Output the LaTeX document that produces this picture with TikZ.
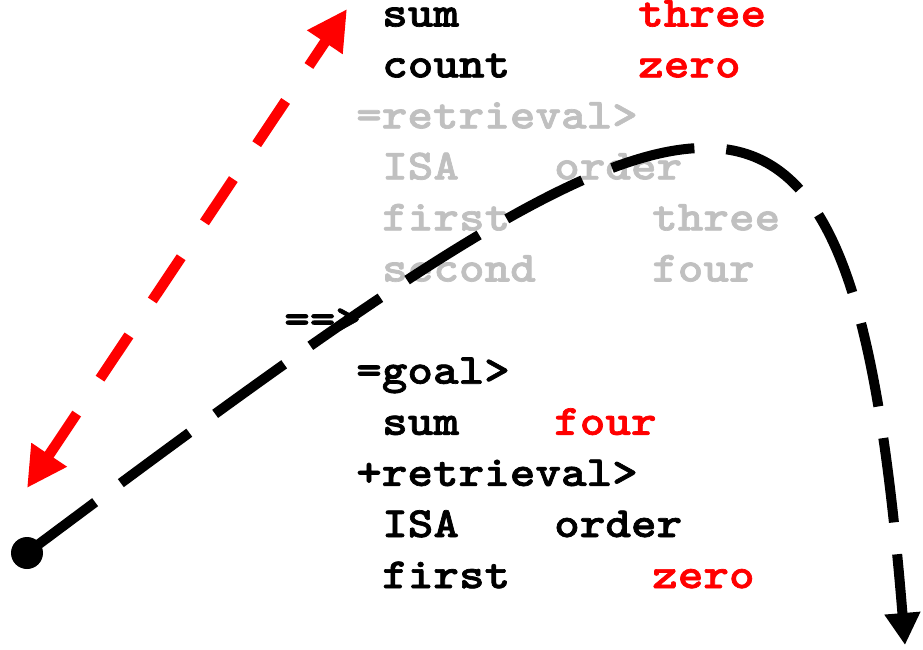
\documentclass[tikz,border=0pt]{standalone}
\usepackage{fontspec}
\newfontfamily\courfont[Extension=.otf, FakeStretch=1.134, FakeBold=1.6]{lmmonolt10-bold}
\usetikzlibrary{arrows.meta}
\definecolor{lightg}{RGB}{192,192,192}
\definecolor{redc}{RGB}{255,0,0}
\tikzset{
  code/.style={anchor=base west, inner sep=0pt, font=\fontsize{43}{51}\selectfont\courfont},
  codeg/.style={code, text=lightg},
  coder/.style={code, text=redc},
}
\begin{document}
\begin{tikzpicture}[x=1pt,y=1pt]
\useasboundingbox (0,0) rectangle (923,649);
% lines: baseline y = 622 - 51.1*i
\node[code]  (l0a) at (382,622.5) {sum};
\node[coder] (l0b) at (638,622.5) {three};
\node[code]  (l1a) at (382,571.6) {count};
\node[coder] (l1b) at (638,571.6) {zero};
\node[codeg] (l2a) at (356,520.6) {=retrieval>};
\node[codeg] (l3a) at (382,469.6) {ISA};
\node[codeg] (l3b) at (554,469.6) {order};
\node[codeg] (l4a) at (382,418.6) {first};
\node[codeg] (l4b) at (652,418.6) {three};
\node[codeg] (l5a) at (382,367.5) {second};
\node[codeg] (l5b) at (652,367.5) {four};
\node[code]  (l6a) at (284,316.4) {==>};
\node[code]  (l7a) at (356,265.3) {=goal>};
\node[code]  (l8a) at (382,214.2) {sum};
\node[coder] (l8b) at (554,214.2) {four};
\node[code]  (l9a) at (356,163.1) {+retrieval>};
\node[code]  (l10a) at (382,112.0) {ISA};
\node[code]  (l10b) at (554,112.0) {order};
\node[code]  (l11a) at (382,60.9) {first};
\node[coder] (l11b) at (652,60.9) {zero};
% black dashed curve
\node[circle, fill=black, minimum size=32pt, inner sep=0pt] (dot) at (27,96) {};
\coordinate (cend) at (905,4);
\draw[line width=10pt, dash pattern=on 85pt off 32pt, -{Triangle[length=32pt,width=34pt]}]
  (dot.center) .. controls (720,614) and (850,679) .. (cend);
% red double arrow
\coordinate (rlo) at (27,161);
\coordinate (rhi) at (347,640);
\draw[redc, line width=10.5pt, dash pattern=on 52pt off 42pt,
  {Triangle[length=40pt,width=40pt]}-{Triangle[length=40pt,width=40pt]}] (rlo) -- (rhi);
\end{tikzpicture}
\end{document}
